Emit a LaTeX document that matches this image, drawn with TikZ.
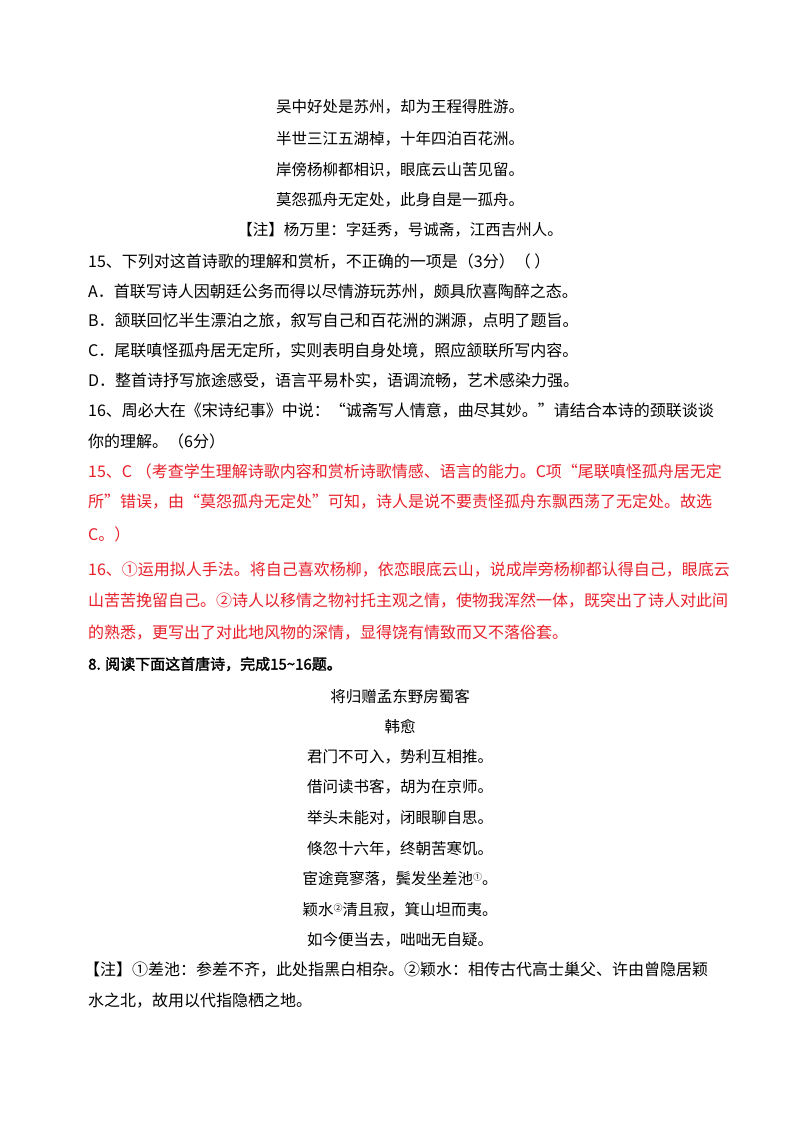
\documentclass[tikz,border=0pt]{standalone}
\usepackage{fontspec}
\setmainfont{Noto Sans CJK SC}
\newfontfamily\cjkb[FakeBold=2]{Noto Sans CJK SC}
\definecolor{ansred}{HTML}{E8202A}
\newcommand{\cmark}[1]{\raisebox{0.55ex}{\fontsize{9}{9}\selectfont #1}}
\tikzset{
  ln/.style={anchor=west,inner sep=0pt,font=\fontsize{16}{16}\selectfont},
  ctr/.style={anchor=center,inner sep=0pt,font=\fontsize{15.5}{16}\selectfont},
  red/.style={text=ansred}
}
\begin{document}
\begin{tikzpicture}[x=1pt,y=-1pt]
\useasboundingbox[fill=white] (0,0) rectangle (800,1132);
\node[ctr] (p1) at (400,107) {吴中好处是苏州，却为王程得胜游。};
\node[ctr] (p2) at (400,139) {半世三江五湖棹，十年四泊百花洲。};
\node[ctr] (p3) at (400,170) {岸傍杨柳都相识，眼底云山苦见留。};
\node[ctr] (p4) at (400,200) {莫怨孤舟无定处，此身自是一孤舟。};
\node[ctr] (n0) at (400,230) {【注】杨万里：字廷秀，号诚斋，江西吉州人。};
\node[ln] (q15) at (88,262) {15、下列对这首诗歌的理解和赏析，不正确的一项是（3分）（ ）};
\node[ln] (qa) at (88,292) {A．首联写诗人因朝廷公务而得以尽情游玩苏州，颇具欣喜陶醉之态。};
\node[ln] (qb) at (88,321) {B．颔联回忆半生漂泊之旅，叙写自己和百花洲的渊源，点明了题旨。};
\node[ln] (qc) at (88,351) {C．尾联嗔怪孤舟居无定所，实则表明自身处境，照应颔联所写内容。};
\node[ln] (qd) at (88,381) {D．整首诗抒写旅途感受，语言平易朴实，语调流畅，艺术感染力强。};
\node[ln] (q16) at (88,411) {16、周必大在《宋诗纪事》中说：“诚斋写人情意，曲尽其妙。”请结合本诗的颈联谈谈};
\node[ln] (q16b) at (88,441) {你的理解。（6分）};
\node[ln,red] (a1) at (88,471) {15、C （考查学生理解诗歌内容和赏析诗歌情感、语言的能力。C项“尾联嗔怪孤舟居无定};
\node[ln,red] (a2) at (88,502) {所”错误，由“莫怨孤舟无定处”可知，诗人是说不要责怪孤舟东飘西荡了无定处。故选};
\node[ln,red] (a3) at (88,534) {C。）};
\node[ln,red] (a4) at (88,570) {16、①运用拟人手法。将自己喜欢杨柳，依恋眼底云山，说成岸旁杨柳都认得自己，眼底云};
\node[ln,red] (a5) at (88,601) {山苦苦挽留自己。②诗人以移情之物衬托主观之情，使物我浑然一体，既突出了诗人对此间};
\node[ln,red] (a6) at (88,633) {的熟悉，更写出了对此地风物的深情，显得饶有情致而又不落俗套。};
\node[ln,font=\cjkb\fontsize{15}{15}\selectfont] (h8) at (88,664) {8. 阅读下面这首唐诗，完成15\textasciitilde16题。};
\node[ctr] (t) at (400,697) {将归赠孟东野房蜀客};
\node[ctr] (au) at (400,727) {韩愈};
\node[ctr] (l1) at (400,757) {君门不可入，势利互相推。};
\node[ctr] (l2) at (400,787) {借问读书客，胡为在京师。};
\node[ctr] (l3) at (400,818) {举头未能对，闭眼聊自思。};
\node[ctr] (l4) at (400,849) {倏忽十六年，终朝苦寒饥。};
\node[ctr] (l5) at (400,879) {宦途竟寥落，鬓发坐差池\cmark{①}。};
\node[ctr] (l6) at (400,910) {颖水\cmark{②}清且寂，箕山坦而夷。};
\node[ctr] (l7) at (400,940) {如今便当去，咄咄无自疑。};
\node[ln] (n1) at (84,970) {【注】①差池：参差不齐，此处指黑白相杂。②颖水：相传古代高士巢父、许由曾隐居颖};
\node[ln] (n2) at (88,1001) {水之北，故用以代指隐栖之地。};
\end{tikzpicture}
\end{document}
